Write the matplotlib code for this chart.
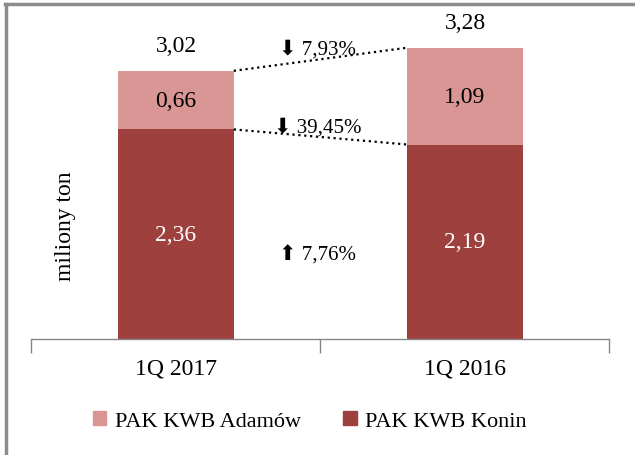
import numpy as np
import matplotlib
matplotlib.use("Agg")
import matplotlib.pyplot as plt
from matplotlib.lines import Line2D

plt.rcParams['font.family'] = ['Liberation Serif', 'DejaVu Sans']

# data
categories = ['1Q 2017', '1Q 2016']
konin = [2.36, 2.19]
adamow = [0.66, 1.09]
totals = [3.02, 3.28]
changes = ['\u2b07 7,93%', '\u2b07 39,45%', '\u2b06 7,76%']

dark = '#9e413e'
pink = '#d99694'

def fmt(v):
    return ('%.2f' % v).replace('.', ',')

fig = plt.figure(figsize=(6.35, 4.56), dpi=100)
ax = fig.add_axes([0.0496, 0.2544, 0.9102, 0.6816])

x = np.arange(len(categories))
w = 0.40
ax.bar(x, konin, w, color=dark, label='PAK KWB Konin', zorder=2)
ax.bar(x, adamow, w, bottom=konin, color=pink, label='PAK KWB Adamów', zorder=2)

for i in range(len(x)):
    ax.text(x[i], konin[i] / 2, fmt(konin[i]), ha='center', va='center',
            color='white', fontsize=17)
    ax.text(x[i], konin[i] + adamow[i] / 2, fmt(adamow[i]), ha='center',
            va='center', color='black', fontsize=17)
    ax.text(x[i], totals[i] + 0.28, fmt(totals[i]), ha='center',
            va='center', color='black', fontsize=17)

# dotted connectors between the bars
ax.plot([x[0] + w / 2, x[1] - w / 2], [totals[0], totals[1]], ':',
        color='black', lw=1.6, zorder=3)
ax.plot([x[0] + w / 2, x[1] - w / 2], [konin[0], konin[1]], ':',
        color='black', lw=1.6, zorder=3)

ax.text(0.49, 3.27, changes[0], ha='center', va='center', fontsize=15)
ax.text(0.49, 2.39, changes[1], ha='center', va='center', fontsize=15)
ax.text(0.49, 0.95, changes[2], ha='center', va='center', fontsize=15)

ax.set_xlim(-0.5, 1.5)
ax.set_ylim(0, 3.5)
ax.set_xticks([-0.5, 0.5, 1.5], minor=False)
ax.set_xticklabels([])
ax.set_xticks(x, minor=True)
ax.set_xticklabels(categories, minor=True, fontsize=17)
ax.tick_params(axis='x', which='major', length=10, width=1, color='#868686',
               direction='out')
ax.tick_params(axis='x', which='minor', length=0, pad=13)
ax.set_yticks([])
for s in ['top', 'right', 'left']:
    ax.spines[s].set_visible(False)
ax.spines['bottom'].set_color('#868686')
ax.spines['bottom'].set_linewidth(1)

# y label sits inside the figure, left of the first bar
fig.text(65 / 635, 1 - 226 / 456, 'miliony ton', rotation=90, ha='center',
         va='center', fontsize=17)

handles = [plt.Rectangle((0, 0), 1, 1, color=pink),
           plt.Rectangle((0, 0), 1, 1, color=dark)]
fig.legend(handles, ['PAK KWB Adamów', 'PAK KWB Konin'], loc='center',
           bbox_to_anchor=(0.488, 0.074), ncol=2, frameon=False, fontsize=16,
           handlelength=0.6, handleheight=0.6, handletextpad=0.4,
           columnspacing=1.9)

# outer border (top and left visible)
fig.add_artist(Line2D([0.009, 0.009], [0.0, 0.988], color='#8c8c8c', lw=2.5,
                      transform=fig.transFigure))
fig.add_artist(Line2D([0.008, 1.0], [0.988, 0.988], color='#8c8c8c', lw=2.5,
                      transform=fig.transFigure))

fig.savefig('out.png', dpi=100, facecolor='white')
